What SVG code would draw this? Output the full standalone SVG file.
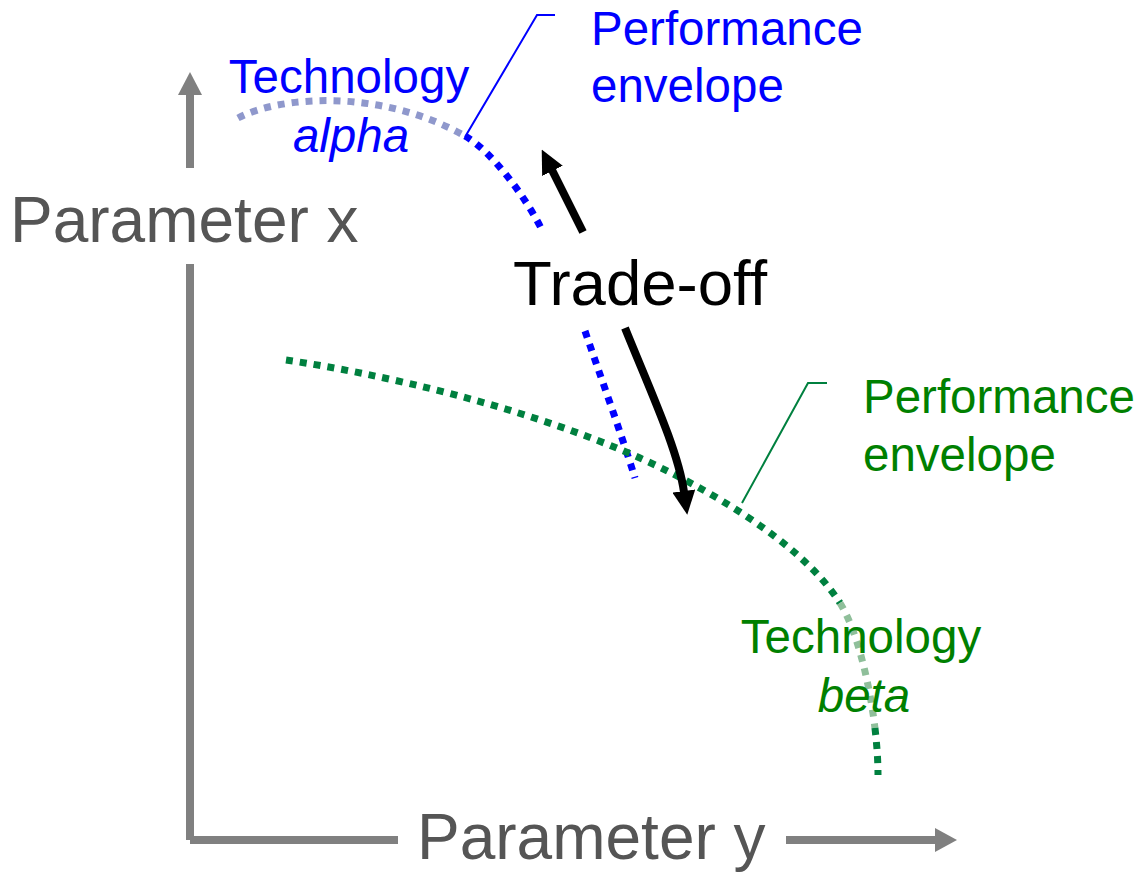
<svg xmlns="http://www.w3.org/2000/svg" width="1141" height="874" viewBox="0 0 1141 874">
<style>
text{font-family:"Liberation Sans",Arial,Helvetica,sans-serif}
.ax{stroke:#808080;stroke-width:8;fill:none}
.axh{fill:#808080}
.axl{font-size:64px;fill:#555555}
.lbl{font-size:47.5px}
.b{fill:#0000ff}
.g{fill:#008000}
.it{font-style:italic}
.dot{fill:none;stroke-width:7;stroke-dasharray:7 7}
.bd{stroke:#0000ff}
.bl{stroke:#8f98cc}
.gd{stroke:#00803f}
.gl{stroke:#8fbf9a}
.lead{fill:none;stroke-width:2}
.arr{fill:none;stroke:#000;stroke-width:8}
</style>
<defs>
<marker id="ah" markerUnits="userSpaceOnUse" viewBox="0 0 24 23" markerWidth="24" markerHeight="23" refX="1" refY="11.5" orient="auto">
<path d="M0,0 L24,11.5 L0,23 z" fill="#000"/>
</marker>
</defs>
<g id="axis-x-param">
<line class="ax" x1="190" y1="840" x2="190" y2="264"/>
<line class="ax" x1="190" y1="168" x2="190" y2="94"/>
<polygon class="axh" points="178,95 202,95 190,72"/>
<text class="axl" x="10" y="242">Parameter x</text>
</g>
<g id="axis-y-param">
<line class="ax" x1="190" y1="840" x2="398" y2="840"/>
<line class="ax" x1="786" y1="840" x2="936" y2="840"/>
<polygon class="axh" points="935,828 935,852 957,840"/>
<text class="axl" x="417" y="859">Parameter y</text>
</g>
<g id="tech-alpha">
<path class="dot bl" d="M238,118 C280,96 380,88 465,136"/>
<path class="dot bd" d="M465,136 C490,150 525,195 543,232"/>
<path class="dot bd" d="M585,331 C600,375 620,430 635,478"/>
<text class="lbl b" x="349" y="93" text-anchor="middle">Technology</text>
<text class="lbl b it" x="351" y="152" text-anchor="middle">alpha</text>
</g>
<g id="envelope-alpha">
<text class="lbl b" x="591" y="45">Performance</text>
<text class="lbl b" x="591" y="102">envelope</text>
</g>
<g id="tech-beta">
<path class="dot gd" d="M286,360 C380,374 520,405 640,458 C700,485 800,540 840,603"/>
<path class="dot gl" d="M840,603 C856.28,628.9 869.27,680.54 874.93,727.92"/>
<path class="dot gd" d="M874.93,727.92 C876.92,744.57 878,760.7 878,775"/>
<text class="lbl g" x="861" y="653" text-anchor="middle">Technology</text>
<text class="lbl g it" x="864" y="712" text-anchor="middle">beta</text>
</g>
<g id="envelope-beta">
<text class="lbl g" x="863" y="413">Performance</text>
<text class="lbl g" x="863" y="471">envelope</text>
</g>
<g id="trade-off">
<text x="513" y="305" font-size="63.5" fill="#000">Trade-off</text>
</g>
<g id="connectors">
<polyline class="lead" stroke="#0000ff" points="465,137 537,15 555,15"/>
<polyline class="lead" stroke="#00803f" points="742,503 808,383 827,383"/>
<path class="arr" d="M583,232 L552,170" marker-end="url(#ah)"/>
<path class="arr" d="M625,328 C650,390 678,450 684,492" marker-end="url(#ah)"/>
</g>
</svg>
